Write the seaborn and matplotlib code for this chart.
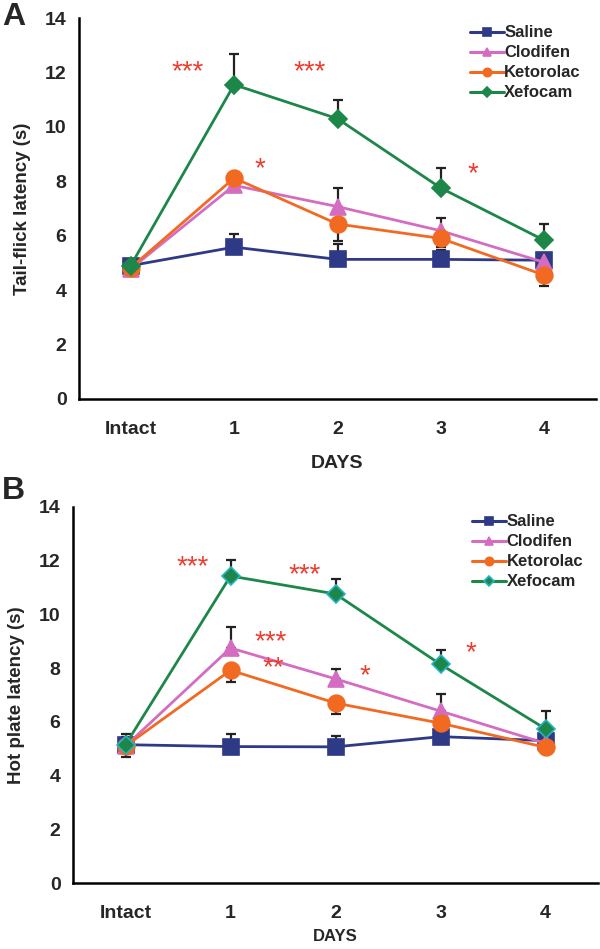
import pandas as pd
import seaborn as sns
import matplotlib.pyplot as plt
from matplotlib.ticker import MultipleLocator, FixedLocator, NullFormatter

days = ["Intact", "1", "2", "3", "4"]
groups = ["Saline", "Clodifen", "Ketorolac", "Xefocam"]

# panel A - tail-flick latency (s)
tf_saline = [4.90, 5.58, 5.13, 5.13, 5.10]
tf_clodifen = [4.78, 7.85, 7.07, 6.18, 5.02]
tf_ketorolac = [4.82, 8.12, 6.43, 5.90, 4.55]
tf_xefocam = [4.90, 11.55, 10.30, 7.75, 5.83]
tf_err_saline = [0.20, 0.48, 0.55, 0.35, 0.15]
tf_err_clodifen = [0.20, 0.30, 0.70, 0.48, 0.20]
tf_err_ketorolac = [0.20, 0.30, 0.62, 0.30, 0.40]
tf_err_xefocam = [0.20, 1.13, 0.68, 0.72, 0.60]

# panel B - hot plate latency (s)
hp_saline = [5.15, 5.08, 5.07, 5.45, 5.30]
hp_clodifen = [5.10, 8.75, 7.60, 6.40, 5.20]
hp_ketorolac = [5.10, 7.92, 6.70, 5.95, 5.05]
hp_xefocam = [5.15, 11.43, 10.76, 8.14, 5.74]
hp_err_saline = [0.40, 0.45, 0.40, 0.30, 0.15]
hp_err_clodifen = [0.30, 0.78, 0.36, 0.64, 0.20]
hp_err_ketorolac = [0.42, 0.45, 0.42, 0.30, 0.15]
hp_err_xefocam = [0.30, 0.60, 0.54, 0.55, 0.65]

# significance marks: (x position, y value, text)
tf_stars = [(0.55, 12.0, "***"), (1.73, 12.0, "***"), (1.25, 8.45, "*"), (3.31, 8.25, "*")]
hp_stars = [(0.64, 11.75, "***"), (1.71, 11.45, "***"), (1.38, 8.95, "***"),
            (1.41, 7.98, "**"), (2.28, 7.7, "*"), (3.29, 8.55, "*")]

sns.set_style("white")
plt.rcParams['font.family'] = ['Liberation Sans', 'DejaVu Sans']
plt.rcParams['font.weight'] = 'bold'

palette = {"Saline": "#2f3a86", "Clodifen": "#d46cc2",
           "Ketorolac": "#f26a22", "Xefocam": "#1c8748"}
markers = {"Saline": "s", "Clodifen": "^", "Ketorolac": "o", "Xefocam": "D"}
msizes = {"Saline": 11, "Clodifen": 11, "Ketorolac": 12, "Xefocam": 9.5}
err_dir = {"Saline": 1, "Clodifen": 1, "Ketorolac": -1, "Xefocam": 1}


def make_df(vals, errs):
    rows = []
    for g, v, e in zip(groups, vals, errs):
        for i in range(len(days)):
            rows.append({"pos": i, "day": days[i], "Group": g, "value": v[i], "err": e[i]})
    return pd.DataFrame(rows)


def draw_panel(ax, df, ylabel, stars, xl_size, xl_pad, diamond_edge):
    for g in groups:
        sub = df[df["Group"] == g]
        if err_dir[g] > 0:
            yerr = [[0] * len(sub), sub["err"]]
        else:
            yerr = [sub["err"], [0] * len(sub)]
        ax.errorbar(sub["pos"], sub["value"], yerr=yerr, fmt="none",
                    ecolor="#222222", elinewidth=1.6, capsize=3.5, capthick=1.6, zorder=1)
    for g in groups:
        sub = df[df["Group"] == g]
        edge = diamond_edge if g == "Xefocam" else palette[g]
        sns.lineplot(data=sub, x="pos", y="value", color=palette[g], marker=markers[g],
                     markersize=msizes[g], markeredgecolor=edge, markeredgewidth=1.2,
                     linewidth=2.0, sort=False, label=g, ax=ax, zorder=3)
    for x, y, t in stars:
        ax.text(x, y, t, color="#ee3b2e", fontsize=20, fontweight="normal",
                ha="center", va="center")
    ax.set_xlim(-0.5, 4.5)
    ax.set_ylim(0, 14)
    ax.yaxis.set_major_locator(MultipleLocator(2))
    ax.yaxis.set_minor_locator(MultipleLocator(1))
    ax.xaxis.set_major_locator(FixedLocator([-0.5, 0.5, 1.5, 2.5, 3.5, 4.5]))
    ax.xaxis.set_major_formatter(NullFormatter())
    ax.xaxis.set_minor_locator(FixedLocator(range(len(days))))
    ax.set_xticklabels(days, minor=True)
    ax.tick_params(axis="x", which="minor", length=0, pad=16, labelsize=14)
    ax.tick_params(axis="x", which="major", length=5, width=1.5, direction="out")
    ax.tick_params(axis="y", which="major", length=5, width=1.5, direction="out", labelsize=14, pad=4)
    ax.tick_params(axis="y", which="minor", length=3, width=1.2, direction="out")
    for lab in ax.get_xticklabels(minor=True) + ax.get_yticklabels():
        lab.set_fontweight("bold")
    sns.despine(ax=ax)
    for s in ["left", "bottom"]:
        ax.spines[s].set_linewidth(1.8)
        ax.spines[s].set_color("black")
    ax.set_xlabel("DAYS", fontsize=xl_size, fontweight="bold", labelpad=xl_pad)
    ax.set_ylabel(ylabel, fontsize=13.5, fontweight="bold", labelpad=10)
    leg = ax.legend(loc="upper right", bbox_to_anchor=(1.0, 1.02), frameon=False,
                    fontsize=12, handlelength=2.0, handletextpad=0.05,
                    labelspacing=0.3, markerscale=0.5)
    for t in leg.get_texts():
        t.set_fontweight("bold")
    for h in leg.legend_handles:
        h.set_linewidth(2.2)


fig = plt.figure(figsize=(6, 9.49), dpi=100)
axA = fig.add_axes([0.1317, 0.5796, 0.8616, 0.4014])
axB = fig.add_axes([0.1217, 0.0695, 0.875, 0.3963])

dfA = make_df([tf_saline, tf_clodifen, tf_ketorolac, tf_xefocam],
              [tf_err_saline, tf_err_clodifen, tf_err_ketorolac, tf_err_xefocam])
dfB = make_df([hp_saline, hp_clodifen, hp_ketorolac, hp_xefocam],
              [hp_err_saline, hp_err_clodifen, hp_err_ketorolac, hp_err_xefocam])

draw_panel(axA, dfA, "Tail-flick latency (s)", tf_stars, 14, 12, "#1c8748")
draw_panel(axB, dfB, "Hot plate latency (s)", hp_stars, 12, 5, "#26b3c4")

fig.text(0.003, 0.982, "A", fontsize=23, fontweight="bold", ha="left", va="center")
fig.text(0.003, 0.483, "B", fontsize=23, fontweight="bold", ha="left", va="center")

fig.savefig("out.png", dpi=100)
